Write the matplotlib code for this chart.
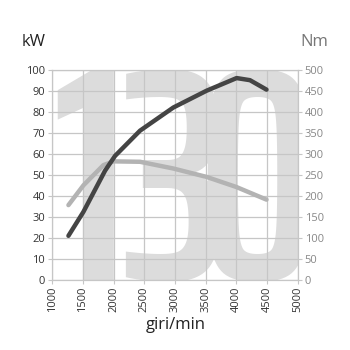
import glob, os
import matplotlib
matplotlib.use("Agg")
import matplotlib.pyplot as plt
from matplotlib import font_manager

rpm_power = [1265, 1509, 1862, 2024, 2431, 2973, 3515, 4003, 4220, 4490]
power_kw = [21, 32.4, 52, 59, 71, 82, 90, 96, 95, 90.5]

rpm_torque = [1265, 1509, 1834, 2000, 2431, 2973, 3515, 4000, 4490]
torque_nm = [178, 225, 273, 282, 281, 265, 245, 221, 191]

x_ticks = [1000, 1500, 2000, 2500, 3000, 3500, 4000, 4500, 5000]
kw_ticks = list(range(0, 101, 10))
nm_ticks = list(range(0, 501, 50))

names = {f.name for f in font_manager.fontManager.ttflist}
base = 'Open Sans' if 'Open Sans' in names else 'DejaVu Sans'
plt.rcParams['font.family'] = [base, 'DejaVu Sans']

# find a condensed font for the big watermark
files = [f.fname for f in font_manager.fontManager.ttflist]
for d in ['/usr/share/fonts', '/usr/local/share/fonts', os.path.expanduser('~/.fonts')]:
    files += glob.glob(os.path.join(d, '**', '*.[ot]tf'), recursive=True)
by_name = {}
for f in files:
    by_name.setdefault(os.path.basename(f).lower(), f)
wm_file = None
for cand in ['sairaextracondensed-semibold.ttf', 'sairaextracondensed-medium.ttf',
             'sairaextracondensed-bold.ttf', 'firasansextracondensed-semibold.ttf',
             'barlowcondensed-semibold.ttf', 'dejavusanscondensed-bold.ttf']:
    if cand in by_name:
        wm_file = by_name[cand]
        break
if wm_file:
    wm_prop = font_manager.FontProperties(fname=wm_file)
else:
    wm_prop = font_manager.FontProperties(family='DejaVu Sans', weight='bold')

fig = plt.figure(figsize=(3.5, 3.5), dpi=100)
ax2 = fig.add_axes([0.149, 0.2, 0.702, 0.601])
ax = ax2.twinx()
ax2.yaxis.tick_right()
ax.yaxis.tick_left()

ax2.set_xlim(1000, 5000)
ax2.set_ylim(0, 500)
ax.set_ylim(0, 100)
ax2.set_axisbelow(True)
ax2.patch.set_visible(False)
ax.patch.set_visible(False)

# watermark "130" behind everything
wm_size = 218
for ch, xc in zip('130', [1620, 2980, 4330]):
    ax2.text(xc, 0, ch, fontproperties=wm_prop, fontsize=wm_size,
             color='#dcdcdc', ha='center', va='baseline', zorder=0.1, clip_on=True)

ax2.grid(True, color='#c6c6c6', linewidth=0.9, zorder=0.5)
ax2.set_xticks(x_ticks)
ax2.set_yticks(nm_ticks)
ax2.set_xticklabels([str(v) for v in x_ticks], rotation=90, fontsize=8, color='#333333')
ax2.set_yticklabels([str(v) for v in nm_ticks], fontsize=8, color='#888888')
ax2.tick_params(axis='both', length=3, color='#c6c6c6', pad=2)
ax.set_yticks(kw_ticks)
ax.set_yticklabels([str(v) for v in kw_ticks], fontsize=8, color='#333333')
ax.tick_params(axis='y', length=3, color='#c6c6c6', pad=2)
for a in (ax, ax2):
    for s in a.spines.values():
        s.set_color('#c6c6c6')

ax2.plot(rpm_torque, torque_nm, color='#b3b3b3', linewidth=3.2, solid_capstyle='round', zorder=3)
ax.plot(rpm_power, power_kw, color='#444444', linewidth=3.2, solid_capstyle='round', zorder=4)

fig.text(22 / 350, 1 - 42 / 350, 'kW', fontsize=12, color='#222222', ha='left', va='center')
fig.text(328 / 350, 1 - 42 / 350, 'Nm', fontsize=12, color='#777777', ha='right', va='center')
fig.text(176 / 350, 1 - 325 / 350, 'giri/min', fontsize=12, color='#222222', ha='center', va='center')

fig.savefig('out.png', dpi=100, facecolor='white')
